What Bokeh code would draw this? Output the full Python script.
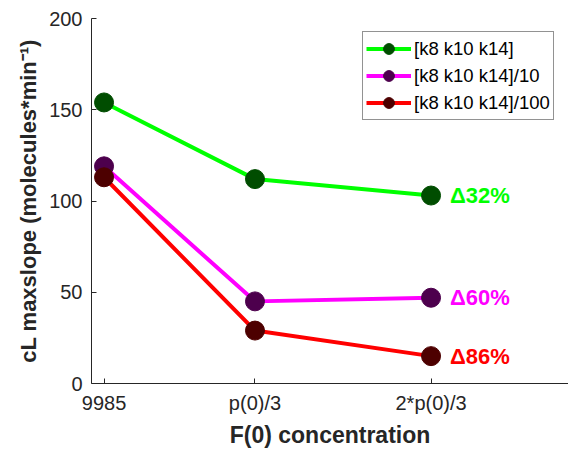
from bokeh.plotting import figure
from bokeh.models import ColumnDataSource, Range1d, FixedTicker, Legend, LegendItem, LabelSet
from bokeh.core.properties import value
from bokeh.embed import file_html
from bokeh.resources import INLINE

p0 = 210000
x_vals = [9985, p0 / 3, 2 * p0 / 3]
x_labels = ["9985", "p(0)/3", "2*p(0)/3"]
series_names = ["[k8 k10 k14]", "[k8 k10 k14]/10", "[k8 k10 k14]/100"]
y_full = [154, 112, 103]
y_div10 = [119, 45, 47]
y_div100 = [113, 29, 15]
deltas = ["\u039432%", "\u039460%", "\u039486%"]
line_colors = ["#00FF00", "#FF00FF", "#FF0000"]
marker_colors = ["#004D00", "#4D004D", "#4D0000"]

FONT = "Liberation Sans"
AX = "#262626"

p = figure(width=568, height=450, output_backend="svg", toolbar_location=None,
           x_range=Range1d(5000, 194650), y_range=Range1d(0, 200),
           min_border_left=91, min_border_right=0, min_border_top=18, min_border_bottom=67)
p.outline_line_color = None
p.grid.visible = False
p.background_fill_color = "white"
p.border_fill_color = "white"

items = []
for name, ys, lc, mc in zip(series_names, [y_full, y_div10, y_div100], line_colors, marker_colors):
    src = ColumnDataSource(dict(x=x_vals, y=ys))
    l = p.line("x", "y", source=src, line_color=lc, line_width=4)
    s = p.scatter("x", "y", source=src, size=19, fill_color=mc, line_color=mc)
    items.append(LegendItem(label=name, renderers=[l, s]))

last_src = ColumnDataSource(dict(
    x=[x_vals[-1]] * 3,
    y=[y_full[-1], y_div10[-1], y_div100[-1]],
    t=deltas, c=line_colors))
labels = LabelSet(x="x", y="y", text="t", source=last_src, x_offset=19, y_offset=0,
                  text_color="c", text_font=value(FONT), text_font_size="22px",
                  text_font_style="bold", text_baseline="middle", text_align="left")
p.add_layout(labels)

legend = Legend(items=items, location=(271, 263), border_line_color=AX, border_line_width=1,
                background_fill_alpha=1.0, label_text_font=FONT, label_text_font_size="18.5px",
                label_text_color="#000000", glyph_width=45, glyph_height=27, label_height=27,
                spacing=0, padding=3, margin=0, label_standoff=3)
p.add_layout(legend)

p.xaxis.ticker = FixedTicker(ticks=x_vals)
p.xaxis.major_label_overrides = {v: lab for v, lab in zip(x_vals, x_labels)}
p.yaxis.ticker = FixedTicker(ticks=[0, 50, 100, 150, 200])

for ax in (p.xaxis[0], p.yaxis[0]):
    ax.axis_line_color = AX
    ax.axis_line_width = 1
    ax.major_tick_line_color = AX
    ax.major_tick_in = 5
    ax.major_tick_out = 0
    ax.minor_tick_line_color = None
    ax.major_label_text_font = FONT
    ax.major_label_text_font_size = "20px"
    ax.major_label_text_color = AX
    ax.axis_label_text_font = FONT
    ax.axis_label_text_font_style = "bold"
    ax.axis_label_text_color = AX

p.xaxis.axis_label_text_font_size = "23px"
p.yaxis.axis_label_text_font_size = "22px"
p.xaxis.axis_label = "F(0) concentration"
p.yaxis.axis_label = "cL maxslope (molecules*min\u207b\u00b9)"
p.xaxis.major_label_standoff = 8
p.xaxis.axis_label_standoff = 5
p.yaxis.major_label_standoff = 9
p.yaxis.axis_label_standoff = 5

open("out.html", "w").write(file_html(p, INLINE))
